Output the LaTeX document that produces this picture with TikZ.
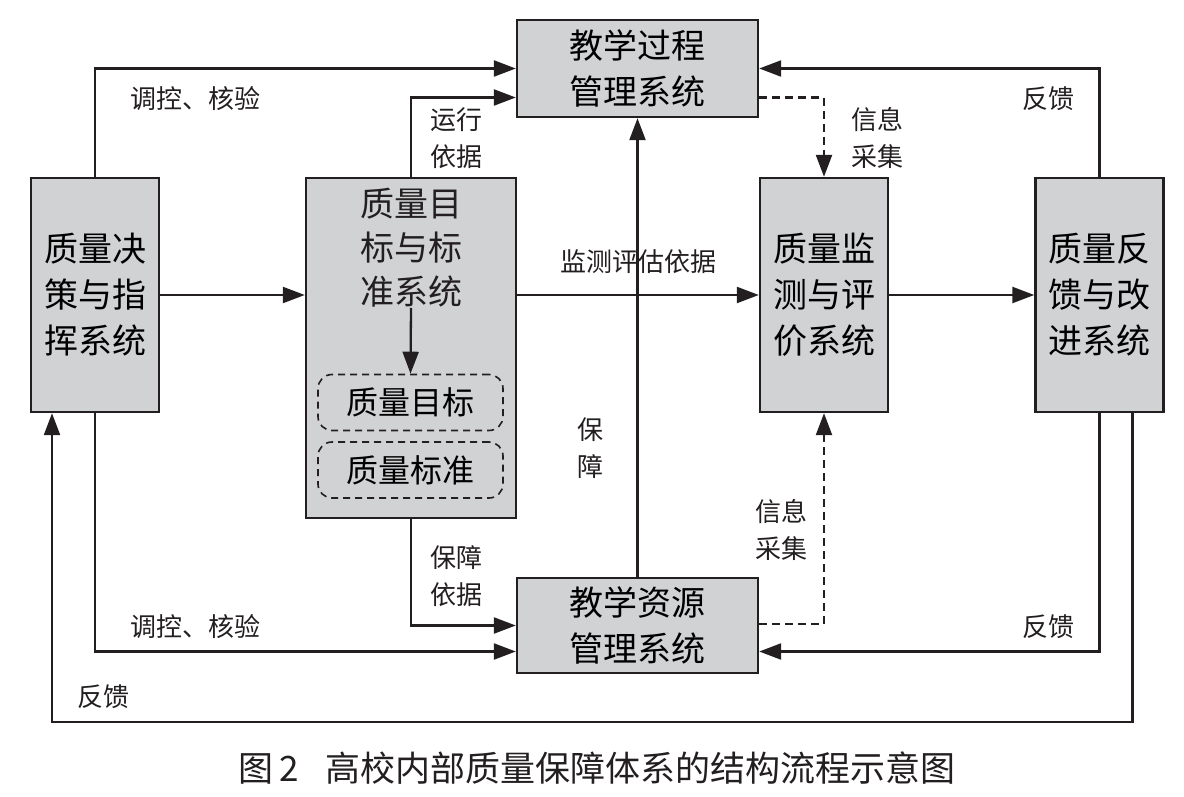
\documentclass[tikz,border=0pt]{standalone}
\usepackage{fontspec}
\usepackage{tikz}
\usetikzlibrary{arrows.meta, positioning, calc}
\newfontfamily\cjk{Noto Sans CJK SC}
\definecolor{boxgray}{HTML}{D1D2D4}
\definecolor{inkdark}{HTML}{231F20}

\tikzset{
  sysbox/.style={draw=inkdark, fill=boxgray, line width=2.4pt, align=center,
    font=\cjk\fontsize{34}{46}\selectfont, inner sep=0pt},
  subbox/.style={draw=inkdark, line width=1.6pt, dash pattern=on 7pt off 5pt,
    rounded corners=14pt, minimum width=185pt, minimum height=56pt,
    font=\cjk\fontsize{32}{40}\selectfont, inner sep=0pt},
  flow/.style={draw=inkdark, line width=2.3pt, -{Triangle[length=22pt, width=16pt]}},
  infoflow/.style={flow, dash pattern=on 8pt off 5pt},
  lbl/.style={font=\cjk\fontsize{26}{37}\selectfont, align=center, text=inkdark, inner sep=0pt}
}

\begin{document}
\begin{tikzpicture}[x=1pt, y=-1pt]
  \useasboundingbox (0,0) rectangle (1184,797);

  % System boxes
  \node[sysbox, minimum width=241pt, minimum height=97pt] (plan) at (637.5,68.5) {教学过程\\管理系统};
  \node[sysbox, minimum width=128pt, minimum height=234pt] (decide) at (95,295) {质量决\\策与指\\挥系统};
  \node[sysbox, minimum width=210pt, minimum height=340pt] (goal) at (411,348) {};
  \node[sysbox, minimum width=128pt, minimum height=234pt] (monitor) at (824,295) {质量监\\测与评\\价系统};
  \node[sysbox, minimum width=128pt, minimum height=234pt] (improve) at (1099.5,295) {质量反\\馈与改\\进系统};
  \node[sysbox, minimum width=241pt, minimum height=95pt] (resource) at (637.5,625.5) {教学资源\\管理系统};

  % Inside the goal box
  \node[lbl, font=\cjk\fontsize{34}{44}\selectfont] (goaltext) at (411,248) {质量目\\标与标\\准系统};
  \node[subbox] (target) at (410.5,402.5) {质量目标};
  \node[subbox] (standard) at (410.5,470) {质量标准};
  \draw[flow] (goaltext.south) -- (target.north);

  % Connectors
  \draw[flow] (decide.north) |- (plan.west);
  \draw[flow] (goal.north) |- ([yshift=-29pt]plan.west);
  \draw[flow] (decide.east) -- (decide.east -| goal.west);
  \draw[flow] (goal.east |- monitor.west) -- (monitor.west);
  \draw[flow] (resource.north) -- (plan.south);
  \draw[infoflow] ([yshift=-29pt]plan.east) -| (monitor.north);
  \draw[infoflow] ([yshift=1.5pt]resource.east) -| (monitor.south);
  \draw[flow] (monitor.east) -- (improve.west);
  \draw[flow] (improve.north) |- (plan.east);
  \draw[flow] (improve.south) |- ([yshift=-26pt]resource.east);
  \draw[flow] (decide.south) |- ([yshift=-26pt]resource.west);
  \draw[flow] (goal.south) |- (resource.west);

  % Outer feedback loop
  \coordinate (loopend) at (52,722);
  \draw[flow] ([xshift=33pt]improve.south) |- (loopend) -- ([xshift=-43pt]decide.south);

  % Labels
  \node[lbl] (lctrltop) at (195,99) {调控、核验};
  \node[lbl] (lrun) at (456,138) {运行\\依据};
  \node[lbl] (lmeasure) at (638,262) {监测评估依据};
  \node[lbl] (lsupport) at (590,448) {保\\障};
  \node[lbl] (linfotop) at (877,138) {信息\\采集};
  \node[lbl] (linfobot) at (781,530) {信息\\采集};
  \node[lbl] (lfbtop) at (1048,99) {反馈};
  \node[lbl] (lfbbot) at (1048,627) {反馈};
  \node[lbl] (lguard) at (456,576) {保障\\依据};
  \node[lbl] (lctrlbot) at (195,627) {调控、核验};
  \node[lbl] (lfbloop) at (103,697) {反馈};

  % Caption
  \node[lbl, font=\cjk\fontsize{35}{40}\selectfont] (caption) at (597,768) {图\,2\hspace{0.75em}高校内部质量保障体系的结构流程示意图};
\end{tikzpicture}
\end{document}
